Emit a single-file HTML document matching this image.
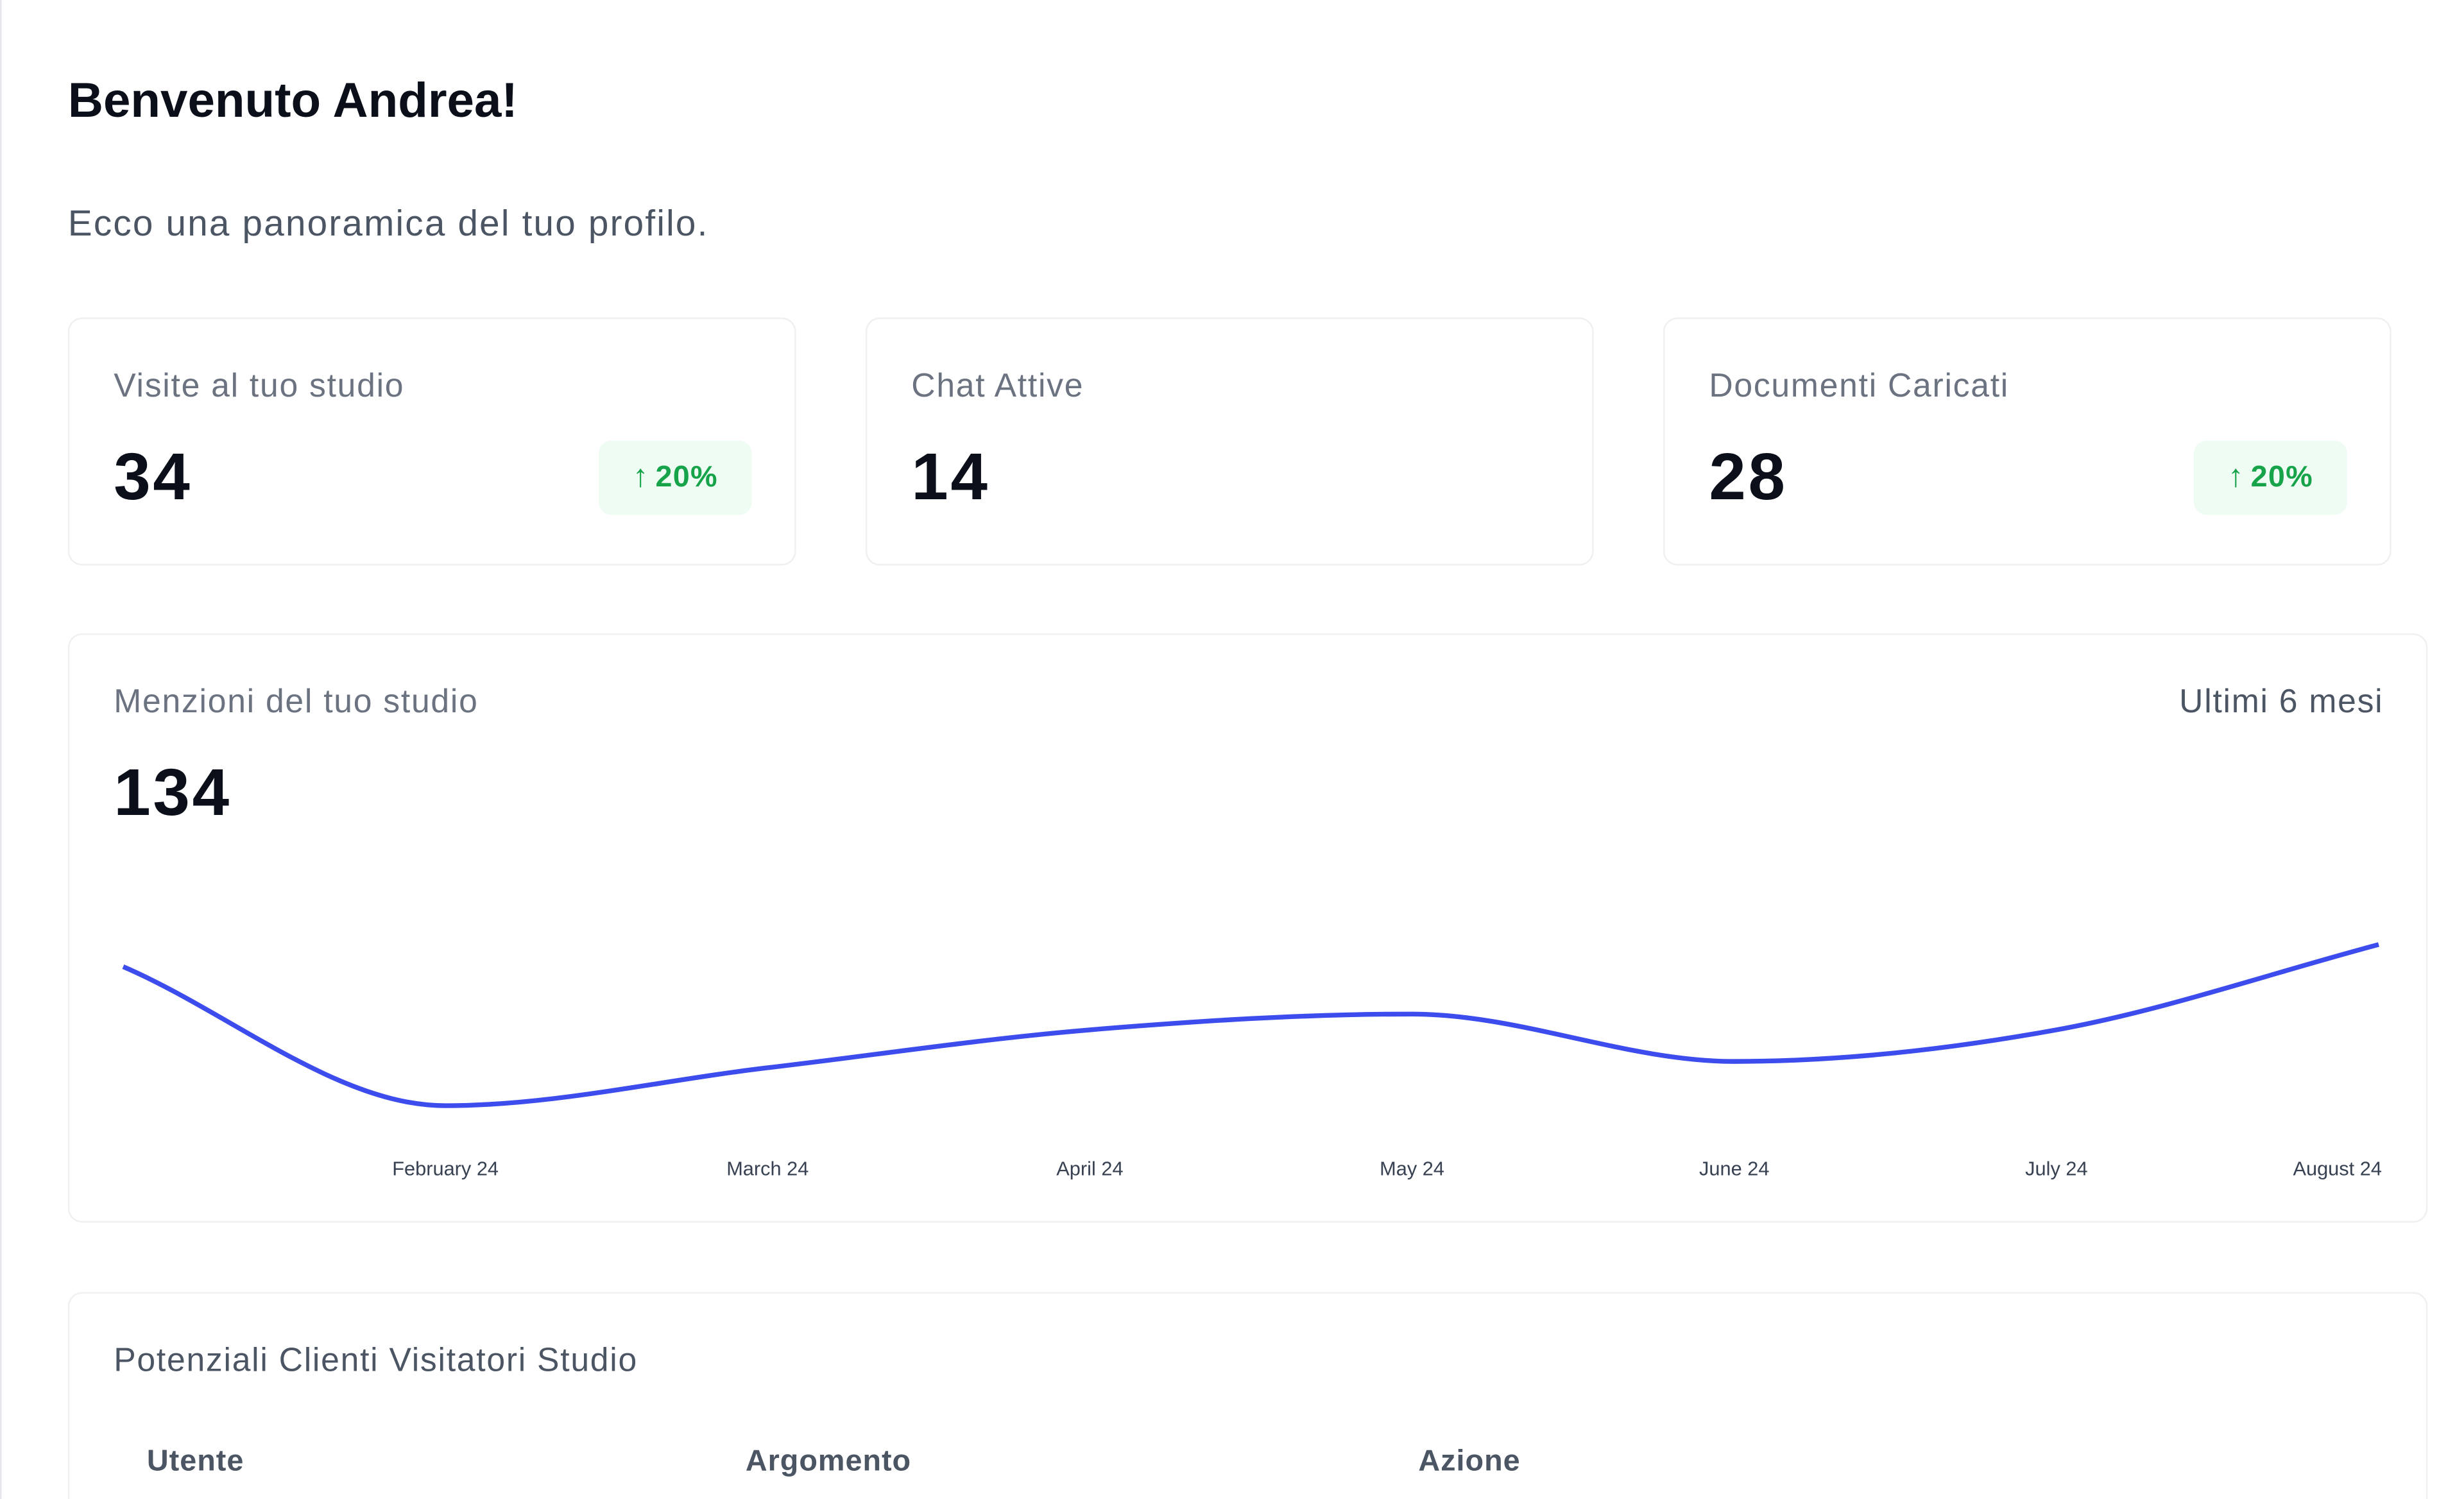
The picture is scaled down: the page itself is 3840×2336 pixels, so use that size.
<!DOCTYPE html>
<html><head><meta charset="utf-8">
<style>
html,body{margin:0;padding:0;background:#fff;width:3840px;height:2336px;overflow:hidden}
#clip{position:relative;width:3840px;height:2336px;overflow:hidden}
#root{position:absolute;left:0;top:0;width:1560px;height:949px;overflow:hidden;transform:scale(2.4615);transform-origin:0 0;font-family:"Liberation Sans",sans-serif}
.abs{position:absolute;white-space:nowrap}
.card{position:absolute;border:1px solid #eef0f2;border-radius:9px;background:#fff;box-sizing:border-box}
.lbl{position:absolute;left:28px;font-size:21px;letter-spacing:0.7px;color:#6b7280;white-space:nowrap}
.val{position:absolute;left:28px;font-size:42px;letter-spacing:1.5px;font-weight:bold;color:#0b0f19}
.badge{position:absolute;right:27px;top:77px;width:97px;height:47px;background:#effcf3;border-radius:8px;color:#16a34a;font-weight:bold;font-size:19px;letter-spacing:0.5px;line-height:47px;text-align:center}
.badge .ar{font-weight:normal;font-size:20px;margin-right:4px}
</style></head><body>
<div id="clip">
<div id="root">
<div class="abs" style="left:0;top:0;width:1px;height:949px;background:#e5e7eb"></div>
<div class="abs" style="left:43px;top:46px;font-size:31px;font-weight:bold;color:#0b0f19">Benvenuto Andrea!</div>
<div class="abs" style="left:43px;top:128px;font-size:23px;letter-spacing:0.9px;color:#4b5563">Ecco una panoramica del tuo profilo.</div>

<div class="card" style="left:43px;top:201px;width:461px;height:157px">
 <div class="lbl" style="top:31px">Visite al tuo studio</div>
 <div class="val" style="top:76px">34</div>
 <div class="badge"><span class="ar">↑</span>20%</div>
</div>
<div class="card" style="left:548px;top:201px;width:461px;height:157px">
 <div class="lbl" style="top:31px">Chat Attive</div>
 <div class="val" style="top:76px">14</div>
</div>
<div class="card" style="left:1053px;top:201px;width:461px;height:157px">
 <div class="lbl" style="top:31px">Documenti Caricati</div>
 <div class="val" style="top:76px">28</div>
 <div class="badge"><span class="ar">↑</span>20%</div>
</div>

<div class="card" style="left:43px;top:401px;width:1494px;height:373px">
 <div class="lbl" style="top:31px">Menzioni del tuo studio</div>
 <div class="abs" style="right:27px;top:31px;font-size:21px;letter-spacing:0.7px;color:#4b5563">Ultimi 6 mesi</div>
 <div class="val" style="top:76px">134</div>
</div>
<svg id="chart" style="position:absolute;left:0;top:0" width="1560" height="949"></svg>

<div class="card" style="left:43px;top:818px;width:1494px;height:160px">
 <div class="lbl" style="top:31px;color:#4b5563">Potenziali Clienti Visitatori Studio</div>
 <div class="abs" style="left:49px;top:96px;font-size:19px;letter-spacing:0.4px;font-weight:bold;color:#4b5563">Utente</div>
 <div class="abs" style="left:428px;top:96px;font-size:19px;letter-spacing:0.4px;font-weight:bold;color:#4b5563">Argomento</div>
 <div class="abs" style="left:854px;top:96px;font-size:19px;letter-spacing:0.4px;font-weight:bold;color:#4b5563">Azione</div>
</div>
</div>
</div>
<script>
const months = ["January 24","February 24","March 24","April 24","May 24","June 24","July 24","August 24"];
const mentions = [27, 5, 11, 17, 19.5, 12, 17, 30.5];
const showLabel = [false,true,true,true,true,true,true,true];

const svg=document.getElementById('chart');
const NS='http://www.w3.org/2000/svg';
const x0=78, x1=1506, yBase=720, yPer=4;
function xs(i){return x0+i*(x1-x0)/(months.length-1);}
function ys(v){return yBase-v*yPer;}
const P=mentions.map((v,i)=>[xs(i),ys(v)]);
const n=P.length, d=[], m=[];
for(let i=0;i<n-1;i++) d.push((P[i+1][1]-P[i][1])/(P[i+1][0]-P[i][0]));
for(let i=0;i<n;i++){
  if(i===0) m.push(d[0]); else if(i===n-1) m.push(d[n-2]);
  else m.push(d[i-1]*d[i]<=0?0:(d[i-1]+d[i])/2);
}
for(let i=0;i<n-1;i++){
  if(d[i]===0){m[i]=m[i+1]=0;continue;}
  const a=m[i]/d[i], b=m[i+1]/d[i], s=a*a+b*b;
  if(s>9){const t=3/Math.sqrt(s);m[i]=t*a*d[i];m[i+1]=t*b*d[i];}
}
let dstr='M'+P[0][0]+','+P[0][1];
for(let i=0;i<n-1;i++){
  const h=(P[i+1][0]-P[i][0])/3;
  dstr+=` C${P[i][0]+h},${P[i][1]+m[i]*h} ${P[i+1][0]-h},${P[i+1][1]-m[i+1]*h} ${P[i+1][0]},${P[i+1][1]}`;
}
const path=document.createElementNS(NS,'path');
path.setAttribute('d',dstr);
path.setAttribute('fill','none');
path.setAttribute('stroke','#3d4ced');
path.setAttribute('stroke-width','3');


svg.appendChild(path);
months.forEach((mo,i)=>{
  if(!showLabel[i]) return;
  const t=document.createElementNS(NS,'text');
  const last=i===months.length-1;
  t.setAttribute('x',last?xs(i)+2:xs(i));
  t.setAttribute('y',744);
  t.setAttribute('text-anchor',last?'end':'middle');
  t.setAttribute('font-size','12.5');
  t.setAttribute('fill','#374151');
  t.setAttribute('font-family','Liberation Sans, sans-serif');
  t.textContent=mo;
  
  
  svg.appendChild(t);
});
</script>
</body></html>
